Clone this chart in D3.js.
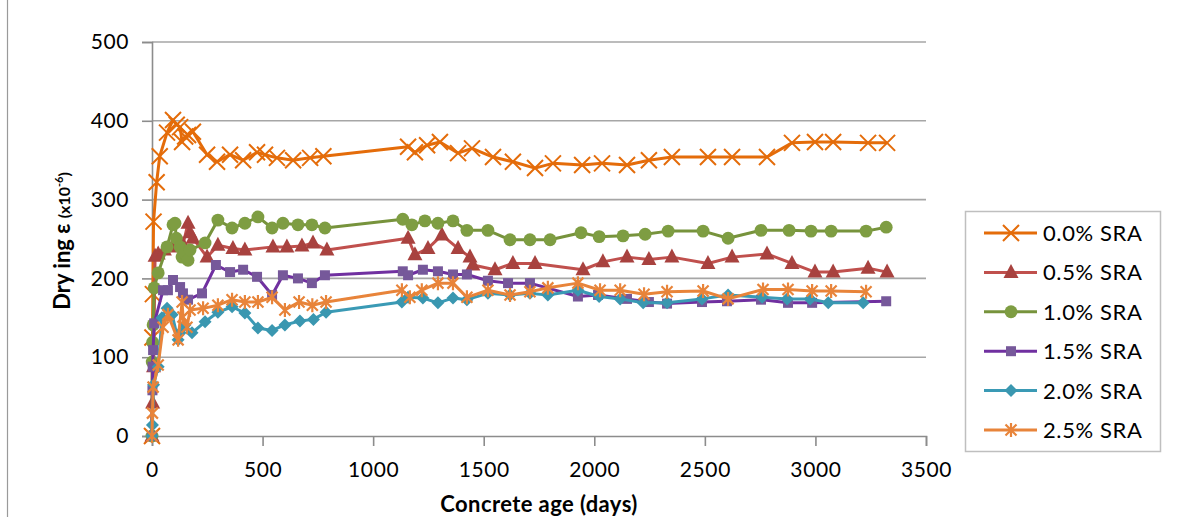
<!DOCTYPE html>
<html>
<head>
<meta charset="utf-8">
<script src="https://cdn.jsdelivr.net/npm/d3@7"></script>
<style>
  html, body { margin: 0; padding: 0; background: #fff; }
  svg { display: block; }
  text { font-family: Lato, "Open Sans", "Liberation Sans", sans-serif; fill: #000; }
</style>
</head>
<body>
<svg id="chart" width="1192" height="517"></svg>
<script>
// Drying shrinkage strain (x10^-6) against concrete age (days), one series per SRA dosage.
const seriesNames = ["0.0% SRA", "0.5% SRA", "1.0% SRA", "1.5% SRA", "2.0% SRA", "2.5% SRA"];

const sra00 = [[0,0],[2,125],[4,180],[7,272],[21,322],[35,355],[68,385],[95,401],[112,395],[127,392],[136,373],[150,380],[163,382],[185,386],[249,357],[294,348],[353,357],[412,350],[475,360],[511,357],[565,353],[638,350],[715,353],[775,355],
  [1158,367],[1189,360],[1244,369],[1302,373],[1384,359],[1447,365],[1542,354],[1632,348],[1732,340],[1813,346],[1945,344],[2035,346],[2148,344],[2247,350],[2351,354],[2514,354],[2623,354],[2781,354],[2894,372],[2998,373],[3080,373],[3238,372],[3324,372]];

const sra05 = [[0,0],[3,42],[7,88],[14,228],[28,231],[56,236],[91,240],[120,245],[140,243],[163,270],[172,258],[185,251],[249,227],[298,242],[366,238],[420,236],[547,240],[610,240],[678,241],[728,245],[791,236],
  [1158,251],[1189,230],[1248,238],[1311,255],[1384,238],[1438,227],[1451,217],[1551,211],[1632,219],[1732,219],[1949,211],[2039,221],[2148,227],[2247,224],[2351,227],[2514,219],[2623,227],[2781,231],[2894,219],[2998,208],[3080,208],[3238,213],[3324,208]];

const sra10 = [[0,0],[1,94],[3,119],[5,141],[10,188],[28,207],[68,240],[95,268],[104,270],[110,251],[127,240],[136,227],[149,232],[163,223],[172,236],[240,245],[298,274],[362,264],[420,270],[479,278],[543,264],[592,270],[660,268],[723,268],[782,264],
  [1134,275],[1175,268],[1234,273],[1293,270],[1361,273],[1424,261],[1519,261],[1619,249],[1709,249],[1800,249],[1940,258],[2022,253],[2130,254],[2230,256],[2334,260],[2492,260],[2605,251],[2754,261],[2881,261],[2980,260],[3071,260],[3229,260],[3320,265]];

const sra15 = [[0,0],[2,58],[3,88],[5,109],[10,143],[50,185],[72,185],[95,198],[127,189],[140,181],[163,173],[226,181],[289,217],[353,208],[412,211],[475,202],[543,179],[592,204],[660,200],[723,194],[782,204],
  [1134,209],[1158,204],[1225,211],[1293,209],[1361,205],[1424,205],[1519,197],[1610,194],[1709,194],[1926,177],[2017,179],[2148,174],[2247,170],[2329,168],[2487,170],[2600,171],[2754,173],[2876,169],[2985,169],[3320,171]];

const sra20 = [[0,0],[2,14],[7,65],[28,88],[45,150],[68,162],[91,154],[118,122],[127,131],[149,141],[181,131],[240,145],[298,157],[362,164],[420,156],[479,137],[543,134],[601,141],[669,146],[730,148],[787,157],
  [1130,170],[1158,176],[1225,175],[1293,169],[1361,175],[1424,173],[1519,181],[1619,179],[1709,181],[1790,179],[1926,185],[2022,177],[2117,174],[2221,169],[2329,169],[2487,174],[2605,179],[2759,176],[2872,174],[2976,174],[3058,169],[3216,169]];

const sra25 = [[0,0],[2,29],[5,62],[28,90],[50,138],[72,154],[118,122],[136,170],[140,151],[158,138],[172,160],[231,162],[298,166],[362,173],[420,170],[479,170],[543,176],[601,160],[665,170],[725,166],[787,170],
  [1130,185],[1166,176],[1220,185],[1293,194],[1361,194],[1424,176],[1519,185],[1619,179],[1709,183],[1790,188],[1926,194],[2026,185],[2117,185],[2225,180],[2329,183],[2492,184],[2605,174],[2763,186],[2876,186],[2985,184],[3071,184],[3229,183]];

const xTicks = [0, 500, 1000, 1500, 2000, 2500, 3000, 3500];
const yTicks = [0, 100, 200, 300, 400, 500];

const lineColors   = ["#E46C0A", "#C0504D", "#77933C", "#7030A0", "#3A9AB5", "#E8843A"];
const markerColors = ["#E46C0A", "#A8423F", "#7E9D42", "#76589A", "#3A97B0", "#E8843A"];
const markerKinds  = ["times", "triangle", "circle", "square", "diamond", "asterisk"];

const svg = d3.select("#chart");

// outer chart frame (only its left edge falls inside the page)
svg.append("line").attr("x1", 7.5).attr("x2", 7.5).attr("y1", 0).attr("y2", 517)
  .attr("stroke", "#9a9a9a").attr("stroke-width", 1.2);

const x = d3.scaleLinear().domain([0, 3500]).range([152, 926]);
const y = d3.scaleLinear().domain([0, 500]).range([436, 42]);

// horizontal gridlines
svg.append("g").selectAll("line").data(yTicks.filter(v => v > 0)).join("line")
  .attr("x1", x(0)).attr("x2", x(3500))
  .attr("y1", d => y(d)).attr("y2", d => y(d))
  .attr("stroke", "#a6a6a6").attr("stroke-width", 1.6);

// y axis
const yAxis = svg.append("g").attr("transform", `translate(${x(0)},0)`)
  .call(d3.axisLeft(y).tickValues(yTicks).tickFormat(d3.format("d")).tickSize(10).tickPadding(13));
// x axis
const xAxis = svg.append("g").attr("transform", `translate(0,${y(0)})`)
  .call(d3.axisBottom(x).tickValues(xTicks).tickFormat(d3.format("d")).tickSize(10).tickPadding(16));

[yAxis, xAxis].forEach(g => {
  g.select(".domain").attr("stroke", "#8c8c8c").attr("stroke-width", 1.6);
  g.selectAll(".tick line").attr("stroke", "#8c8c8c").attr("stroke-width", 1.6);
  g.selectAll(".tick text").attr("font-size", 21).attr("fill", "#000")
    .attr("font-family", "Lato, 'Open Sans', sans-serif").style("letter-spacing", "0.6px");
});

// axis titles
svg.append("text").attr("x", 539).attr("y", 512).attr("text-anchor", "middle")
  .attr("font-size", 22).attr("font-weight", "bold").style("letter-spacing", "0.4px")
  .text("Concrete age (days)");

const yTitle = svg.append("text").attr("transform", "translate(70,241) rotate(-90)")
  .attr("text-anchor", "middle").attr("font-weight", "bold");
yTitle.append("tspan").attr("font-size", 22).text("Dry ing ε ");
yTitle.append("tspan").attr("font-size", 16).text("(x10");
yTitle.append("tspan").attr("font-size", 11).attr("dy", -7).text("-6");
yTitle.append("tspan").attr("font-size", 16).attr("dy", 7).text(")");

// marker path generators
function markerPath(kind) {
  switch (kind) {
    case "times":    return "M-8,-8L8,8M-8,8L8,-8";
    case "asterisk": return "M-5.5,-5.5L5.5,5.5M-5.5,5.5L5.5,-5.5M0,-7L0,7";
    case "triangle": return "M0,-8.5L7.5,5.5L-7.5,5.5Z";
    case "square":   return "M-5,-5H5V5H-5Z";
    case "diamond":  return "M0,-6.5L6.5,0L0,6.5L-6.5,0Z";
    case "circle":   return d3.symbol(d3.symbolCircle, 130)();
  }
}
const strokeMarker = k => k === "times" || k === "asterisk";

function drawMarker(g, kind, color) {
  const p = g.append("path").attr("d", markerPath(kind));
  if (strokeMarker(kind)) p.attr("fill", "none").attr("stroke", color).attr("stroke-width", kind === "times" ? 2 : 2.2);
  else p.attr("fill", color);
}

const allSeries = [sra00, sra05, sra10, sra15, sra20, sra25];
const line = d3.line().x(d => x(d[0])).y(d => y(d[1]));

allSeries.forEach((data, i) => {
  const g = svg.append("g");
  g.append("path").datum(data).attr("d", line)
    .attr("fill", "none").attr("stroke", lineColors[i]).attr("stroke-width", 3)
    .attr("stroke-linejoin", "round");
  g.selectAll("g.pt").data(data).join("g").attr("class", "pt")
    .attr("transform", d => `translate(${x(d[0])},${y(d[1])})`)
    .each(function () { drawMarker(d3.select(this), markerKinds[i], markerColors[i]); });
});

// legend
const legend = svg.append("g");
legend.append("rect").attr("x", 965.5).attr("y", 211.5).attr("width", 195).attr("height", 240)
  .attr("fill", "#fff").attr("stroke", "#bfbfbf").attr("stroke-width", 1.5);
seriesNames.forEach((name, i) => {
  const cy = 233 + i * 39.4;
  const item = legend.append("g");
  item.append("line").attr("x1", 984).attr("x2", 1037).attr("y1", cy).attr("y2", cy)
    .attr("stroke", lineColors[i]).attr("stroke-width", 3);
  drawMarker(item.append("g").attr("transform", `translate(1011,${cy})`), markerKinds[i], markerColors[i]);
  item.append("text").attr("x", 1043).attr("y", cy).attr("dy", "0.36em")
    .attr("font-size", 22).style("letter-spacing", "0.6px").text(name);
});
</script>
</body>
</html>
